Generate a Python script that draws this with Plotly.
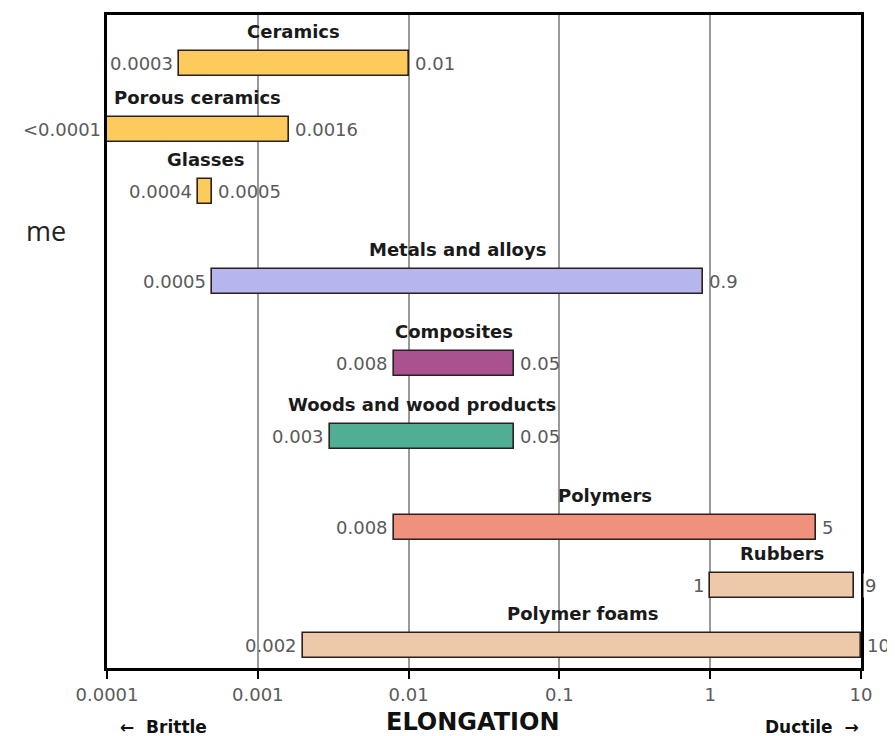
import math
import plotly.graph_objects as go

# ---- data ----
materials = ["Ceramics", "Porous ceramics", "Glasses", "Metals and alloys", "Composites",
             "Woods and wood products", "Polymers", "Rubbers", "Polymer foams"]
elong_min = [0.0003, 0.0001, 0.0004, 0.0005, 0.008, 0.003, 0.008, 1, 0.002]
elong_max = [0.01, 0.0016, 0.0005, 0.9, 0.05, 0.05, 5, 9, 10]
min_labels = ["0.0003", "<0.0001", "0.0004", "0.0005", "0.008", "0.003", "0.008", "1", "0.002"]
max_labels = ["0.01", "0.0016", "0.0005", "0.9", "0.05", "0.05", "5", "9", "10"]
tick_vals = [0.0001, 0.001, 0.01, 0.1, 1, 10]
tick_text = ["0.0001", "0.001", "0.01", "0.1", "1", "10"]

# ---- styling / layout ----
colors = ["#FDCB5C", "#FDCB5C", "#FDCB5C", "#B7B5EE", "#A9528F", "#4FAE94",
          "#EF917C", "#EDC9AA", "#EDC9AA"]
row_y = [49, 115, 177, 268, 350, 423, 515, 573, 633]
PLOT_H = 656

fig = go.Figure()
fig.add_trace(go.Bar(
    y=row_y,
    x=[b - a for a, b in zip(elong_min, elong_max)],
    base=elong_min,
    orientation="h",
    width=25,
    marker=dict(color=colors, line=dict(color="#2b1f1f", width=1.6)),
    hoverinfo="skip",
    showlegend=False,
))

GRAY = "#5a5a5a"
LBL_FONT = "DejaVu Sans"
ann = []
for name, a, b, la, lb, y in zip(materials, elong_min, elong_max, min_labels, max_labels, row_y):
    mid = (math.log10(a) + math.log10(b)) / 2
    ann.append(dict(x=mid, y=y, yshift=32, text="<b>" + name + "</b>", showarrow=False,
                    font=dict(family=LBL_FONT, size=18, color="#1a1a1a"), xanchor="center", yanchor="middle"))
    ann.append(dict(x=math.log10(a), y=y, xshift=-4, text=la, showarrow=False,
                    font=dict(family=LBL_FONT, size=18, color=GRAY), xanchor="right", yanchor="middle"))
    near_edge = 0.9 < math.log10(b) < 1
    ann.append(dict(x=math.log10(b), y=y, xshift=(9 if near_edge else 4), text=lb, showarrow=False,
                    bgcolor=("white" if near_edge else None),
                    font=dict(family=LBL_FONT, size=18, color=GRAY), xanchor="left", yanchor="middle"))

ann.append(dict(xref="paper", yref="paper", x=0.5, y=-0.083, text="<b>ELONGATION</b>", showarrow=False,
                font=dict(family=LBL_FONT, size=24, color="#111111"), xanchor="center", yanchor="middle",
                xshift=-11))
ann.append(dict(xref="paper", yref="paper", x=0.015, y=-0.09, text="<b>\u2190  Brittle</b>", showarrow=False,
                font=dict(family=LBL_FONT, size=17, color="#111111"), xanchor="left", yanchor="middle"))
ann.append(dict(xref="paper", yref="paper", x=1.0, y=-0.09, text="<b>Ductile  \u2192</b>", showarrow=False,
                font=dict(family=LBL_FONT, size=17, color="#111111"), xanchor="right", yanchor="middle"))
ann.append(dict(xref="paper", yref="paper", x=-0.081, y=0.67, text="me", showarrow=False,
                font=dict(family="Open Sans", size=27, color="#222222"), xanchor="center", yanchor="middle"))

fig.update_layout(
    width=887, height=728,
    margin=dict(l=99, r=34, t=4, b=68),
    paper_bgcolor="white", plot_bgcolor="white",
    bargap=0,
    annotations=ann,
    xaxis=dict(type="log", range=[-4, 1], tickvals=tick_vals, ticktext=tick_text,
               showgrid=True, gridcolor="#9a9a9a", gridwidth=1.5,
               showline=True, linecolor="black", linewidth=3, mirror=True,
               ticks="outside", ticklen=8, tickwidth=2, tickcolor="black",
               tickfont=dict(family=LBL_FONT, size=18, color=GRAY), zeroline=False),
    yaxis=dict(range=[PLOT_H, 0], showgrid=False, showticklabels=False, ticks="",
               showline=True, linecolor="black", linewidth=3, mirror=True, zeroline=False),
)

fig.write_html("out.html")
